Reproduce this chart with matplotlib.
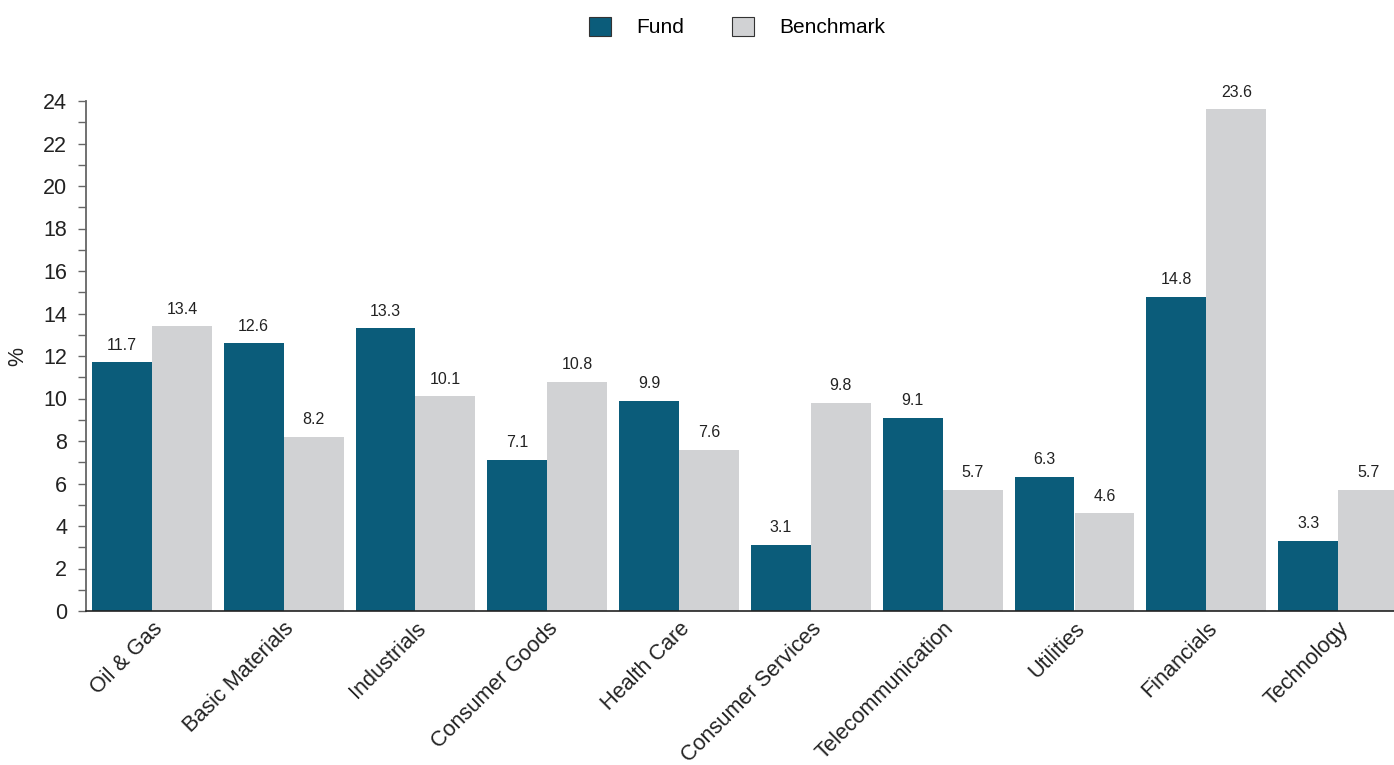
import numpy as np
import matplotlib
matplotlib.use("Agg")
import matplotlib.pyplot as plt
from matplotlib.patches import Patch

plt.rcParams['font.family'] = ['Liberation Sans', 'DejaVu Sans']

# sector weights, in %
sectors = ['Oil & Gas', 'Basic Materials', 'Industrials', 'Consumer Goods', 'Health Care',
           'Consumer Services', 'Telecommunication', 'Utilities', 'Financials', 'Technology']
fund = [11.7, 12.6, 13.3, 7.1, 9.9, 3.1, 9.1, 6.3, 14.8, 3.3]
benchmark = [13.4, 8.2, 10.1, 10.8, 7.6, 9.8, 5.7, 4.6, 23.6, 5.7]
series_names = ['Fund', 'Benchmark']

fund_color = '#0b5c7a'
bench_color = '#d1d2d4'

fig = plt.figure(figsize=(13.94, 7.65), dpi=100)
ax = fig.add_axes([86 / 1394, 154 / 765, 1318 / 1394, 510 / 765])

x = np.arange(len(sectors))
w = 0.455
b1 = ax.bar(x - w / 2, fund, w, color=fund_color)
b2 = ax.bar(x + w / 2, benchmark, w, color=bench_color)

# value labels above each bar
for bars, vals in ((b1, fund), (b2, benchmark)):
    for r, v in zip(bars, vals):
        ax.annotate(f'{v:.1f}', (r.get_x() + r.get_width() / 2, v),
                    xytext=(0, 7), textcoords='offset points',
                    ha='center', va='bottom', fontsize=11.5, color='#222222',
                    annotation_clip=False)

ax.set_xlim(-0.5, len(sectors) - 0.5)
ax.set_ylim(0, 24)
ax.set_yticks(np.arange(0, 25, 2))
ax.set_yticks(np.arange(1, 24, 2), minor=True)
ax.tick_params(axis='y', which='both', length=6, width=1, color='#666666',
               labelsize=15.5, pad=7.5, labelcolor='#222222')
ax.set_xticks(x)
ax.set_xticklabels(sectors, rotation=45, ha='right', rotation_mode='anchor',
                   fontsize=15.6, color='#222222')
ax.tick_params(axis='x', length=0, pad=5)

for s in ('top', 'right'):
    ax.spines[s].set_visible(False)
ax.spines['left'].set_color('#666666')
ax.spines['left'].set_linewidth(1.3)
ax.spines['bottom'].set_color('#222222')
ax.spines['bottom'].set_linewidth(1.2)

fig.text(18 / 1394, 1 - 356 / 765, '%', rotation=90, ha='center', va='center',
         fontsize=15.5, color='#222222')

handles = [Patch(facecolor=fund_color, edgecolor='#333333', linewidth=0.8),
           Patch(facecolor=bench_color, edgecolor='#333333', linewidth=0.8)]
fig.legend(handles, series_names, loc='center', bbox_to_anchor=(737 / 1394, 1 - 27 / 765),
           ncol=2, frameon=False, fontsize=15, handlelength=1.05, handleheight=1.05,
           handletextpad=1.2, columnspacing=2.3)

fig.savefig('out.png', dpi=100)
